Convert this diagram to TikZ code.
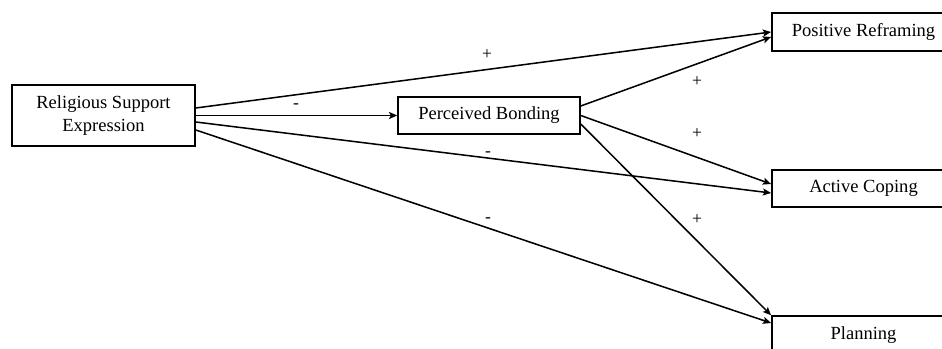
\documentclass[tikz,border=0pt]{standalone}
\usepackage{fontspec}
\setmainfont{Liberation Serif}
\usetikzlibrary{arrows.meta,calc}

\begin{document}
\begin{tikzpicture}[x=0.03cm,y=-0.03cm,->,>={Stealth[length=7pt,width=6pt,inset=1.5pt]},
  line width=1.3pt,
  var/.style={rectangle,draw,align=center,inner sep=2pt,
    font=\fontsize{15.8}{19.5}\selectfont},
  sign/.style={inner sep=1pt,font=\fontsize{15}{18}\selectfont}]

  \useasboundingbox (0,0) rectangle (942,349);

  % variables
  \node[var,minimum width=5.49cm,minimum height=1.83cm] (rse) at (103.5,115.5) {Religious Support\\Expression};
  \node[var,minimum width=5.46cm,minimum height=1.11cm] (pb) at (489,115.5) {Perceived Bonding};
  \node[var,minimum width=5.5cm,minimum height=1.14cm] (pr) at (863.5,32) {Positive Reframing};
  \node[var,minimum width=5.5cm,minimum height=1.11cm] (ac) at (863.5,188.5) {Active Coping};
  \node[var,minimum width=5.5cm,minimum height=1.14cm] (pl) at (863.5,335) {Planning};

  % paths
  \draw ($(rse.east)+(0,-7.5)$) -- (pr.west);
  \draw (rse.east) -- (pb.west);
  \draw ($(rse.east)+(0,6.5)$) -- ($(ac.west)+(0,4.5)$);
  \draw ($(rse.east)+(0,14.5)$) -- ($(pl.west)+(0,-12)$);
  \draw ($(pb.east)+(0,-9.5)$) -- ($(pr.west)+(0,5)$);
  \draw (pb.east) -- ($(ac.west)+(0,-4.5)$);
  \draw ($(pb.east)+(0,8.5)$) -- (pl.north west);

  % signs
  \node[sign] (s1) at (487,55) {+};
  \node[sign] (s2) at (296,106) {-};
  \node[sign] (s3) at (488,154) {-};
  \node[sign] (s4) at (488,220) {-};
  \node[sign] (s5) at (697,82) {+};
  \node[sign] (s6) at (697,134) {+};
  \node[sign] (s7) at (697,220) {+};
\end{tikzpicture}
\end{document}
